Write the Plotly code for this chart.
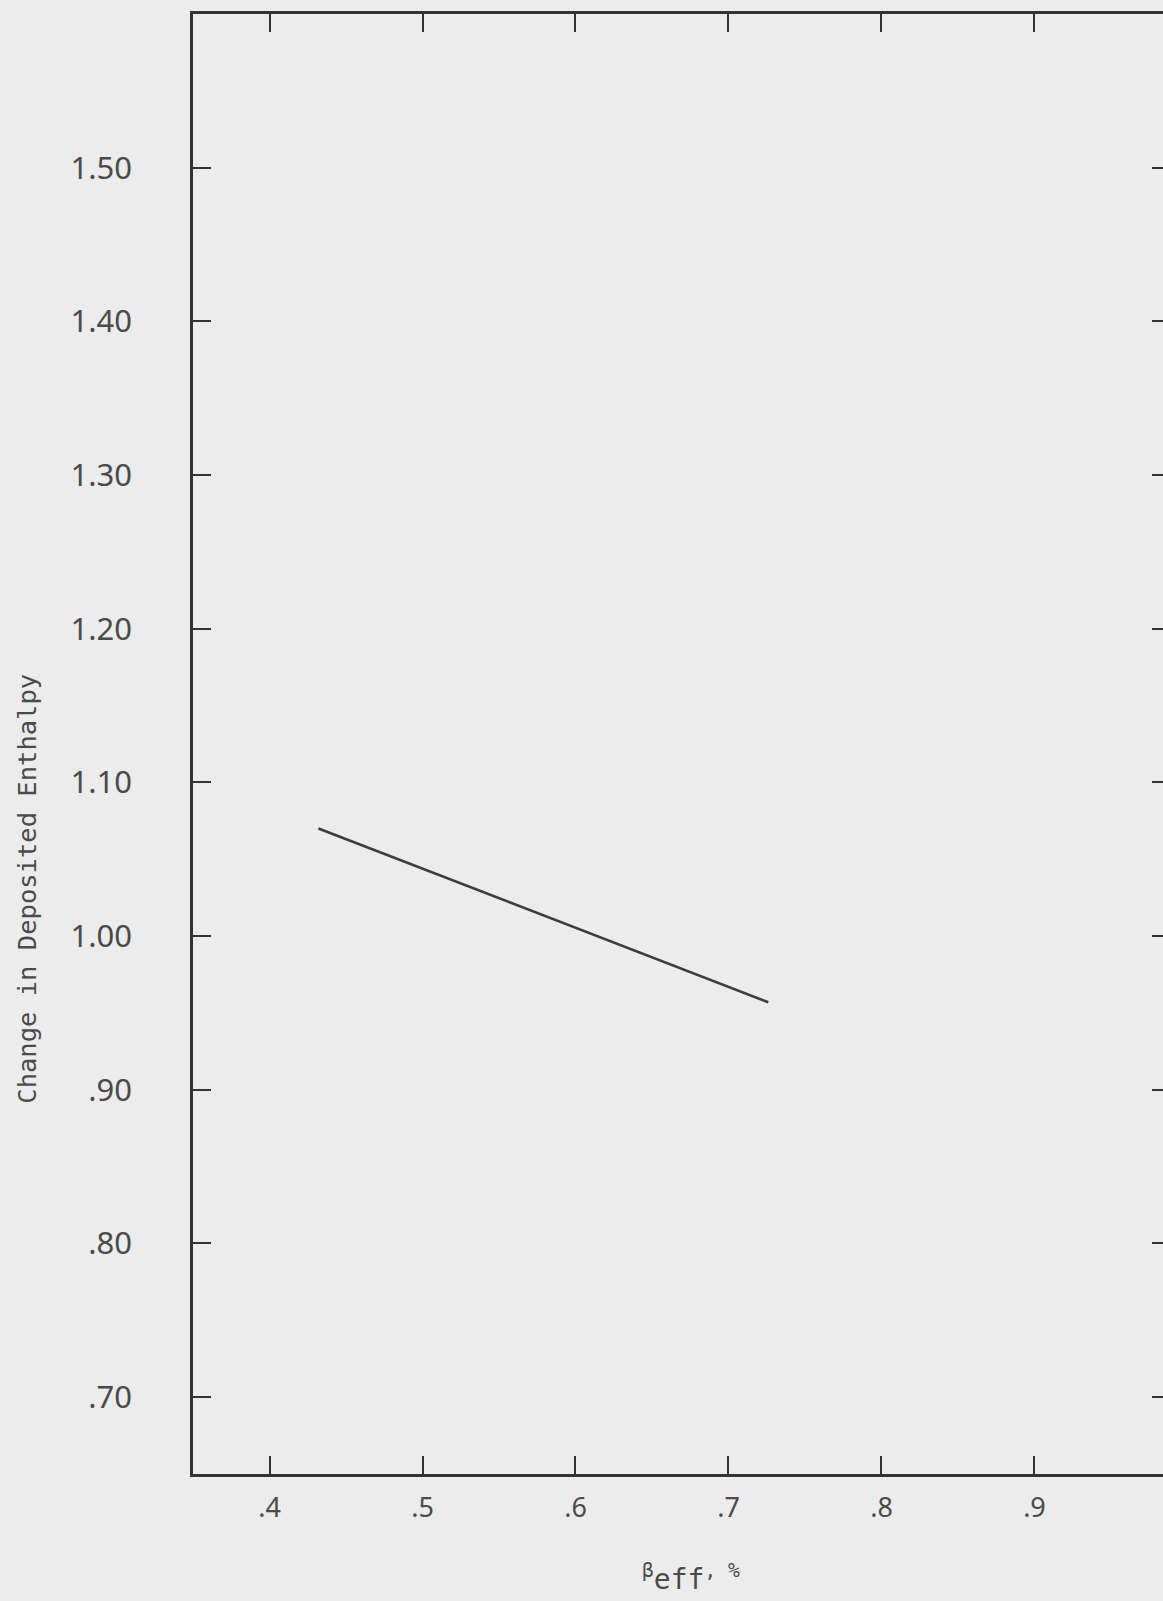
import plotly.graph_objects as go

# Data
beta_eff = [0.432, 0.726]
delta_enthalpy = [1.070, 0.957]

x_tickvals = [0.4, 0.5, 0.6, 0.7, 0.8, 0.9]
x_ticktext = [".4", ".5", ".6", ".7", ".8", ".9"]
y_tickvals = [0.70, 0.80, 0.90, 1.00, 1.10, 1.20, 1.30, 1.40, 1.50]
y_ticktext = [".70", ".80", ".90", "1.00", "1.10", "1.20", "1.30", "1.40", "1.50"]

x_range = [0.35, 0.984]
y_range = [0.65, 1.60]

BG = "#ececec"
INK = "#333333"
TXT = "#4a4a4a"

fig = go.Figure()
fig.add_trace(go.Scatter(x=beta_eff, y=delta_enthalpy, mode="lines",
                         line=dict(color="#3c3c3c", width=2.6),
                         showlegend=False, hoverinfo="skip"))
# empty trace so that the right-hand tick axis is drawn
fig.add_trace(go.Scatter(x=[], y=[], yaxis="y2", mode="lines",
                         showlegend=False, hoverinfo="skip"))

fig.update_layout(
    width=1163, height=1601,
    margin=dict(l=193, r=0, t=14, b=127),
    paper_bgcolor=BG, plot_bgcolor=BG,
    showlegend=False,
    xaxis=dict(range=x_range, tickvals=x_tickvals, ticktext=x_ticktext,
               showgrid=False, zeroline=False,
               showline=True, linecolor=INK, linewidth=2.5, mirror="ticks",
               ticks="inside", ticklen=18, tickwidth=2, tickcolor=INK,
               ticklabelstandoff=8,
               tickfont=dict(family="Noto Sans", size=27, color=TXT)),
    yaxis=dict(range=y_range, tickvals=y_tickvals, ticktext=y_ticktext,
               showgrid=False, zeroline=False,
               showline=True, linecolor=INK, linewidth=2.5, mirror=False,
               ticks="inside", ticklen=18, tickwidth=2, tickcolor=INK,
               ticklabelstandoff=52,
               tickfont=dict(family="Noto Sans", size=31, color=TXT)),
    yaxis2=dict(range=y_range, tickvals=y_tickvals, overlaying="y", side="right",
                showgrid=False, zeroline=False, showline=False,
                showticklabels=False,
                ticks="inside", ticklen=11, tickwidth=2, tickcolor=INK),
    annotations=[
        dict(text="Change in Deposited Enthalpy", xref="paper", yref="paper",
             x=-0.172, y=0.401, xanchor="center", yanchor="middle",
             textangle=-90, showarrow=False,
             font=dict(family="DejaVu Sans Mono", size=25.5, color=TXT)),
        dict(text="<sup>β</sup>eff<sup>, %</sup>", xref="paper", yref="paper",
             x=0.513, y=-0.071, xanchor="center", yanchor="middle",
             showarrow=False,
             font=dict(family="DejaVu Sans Mono", size=28, color=TXT)),
    ],
)

fig.write_html(
    "out.html",
    config={"displayModeBar": False},
    post_script="document.body.style.margin='0';document.body.style.background='#ececec';",
)
